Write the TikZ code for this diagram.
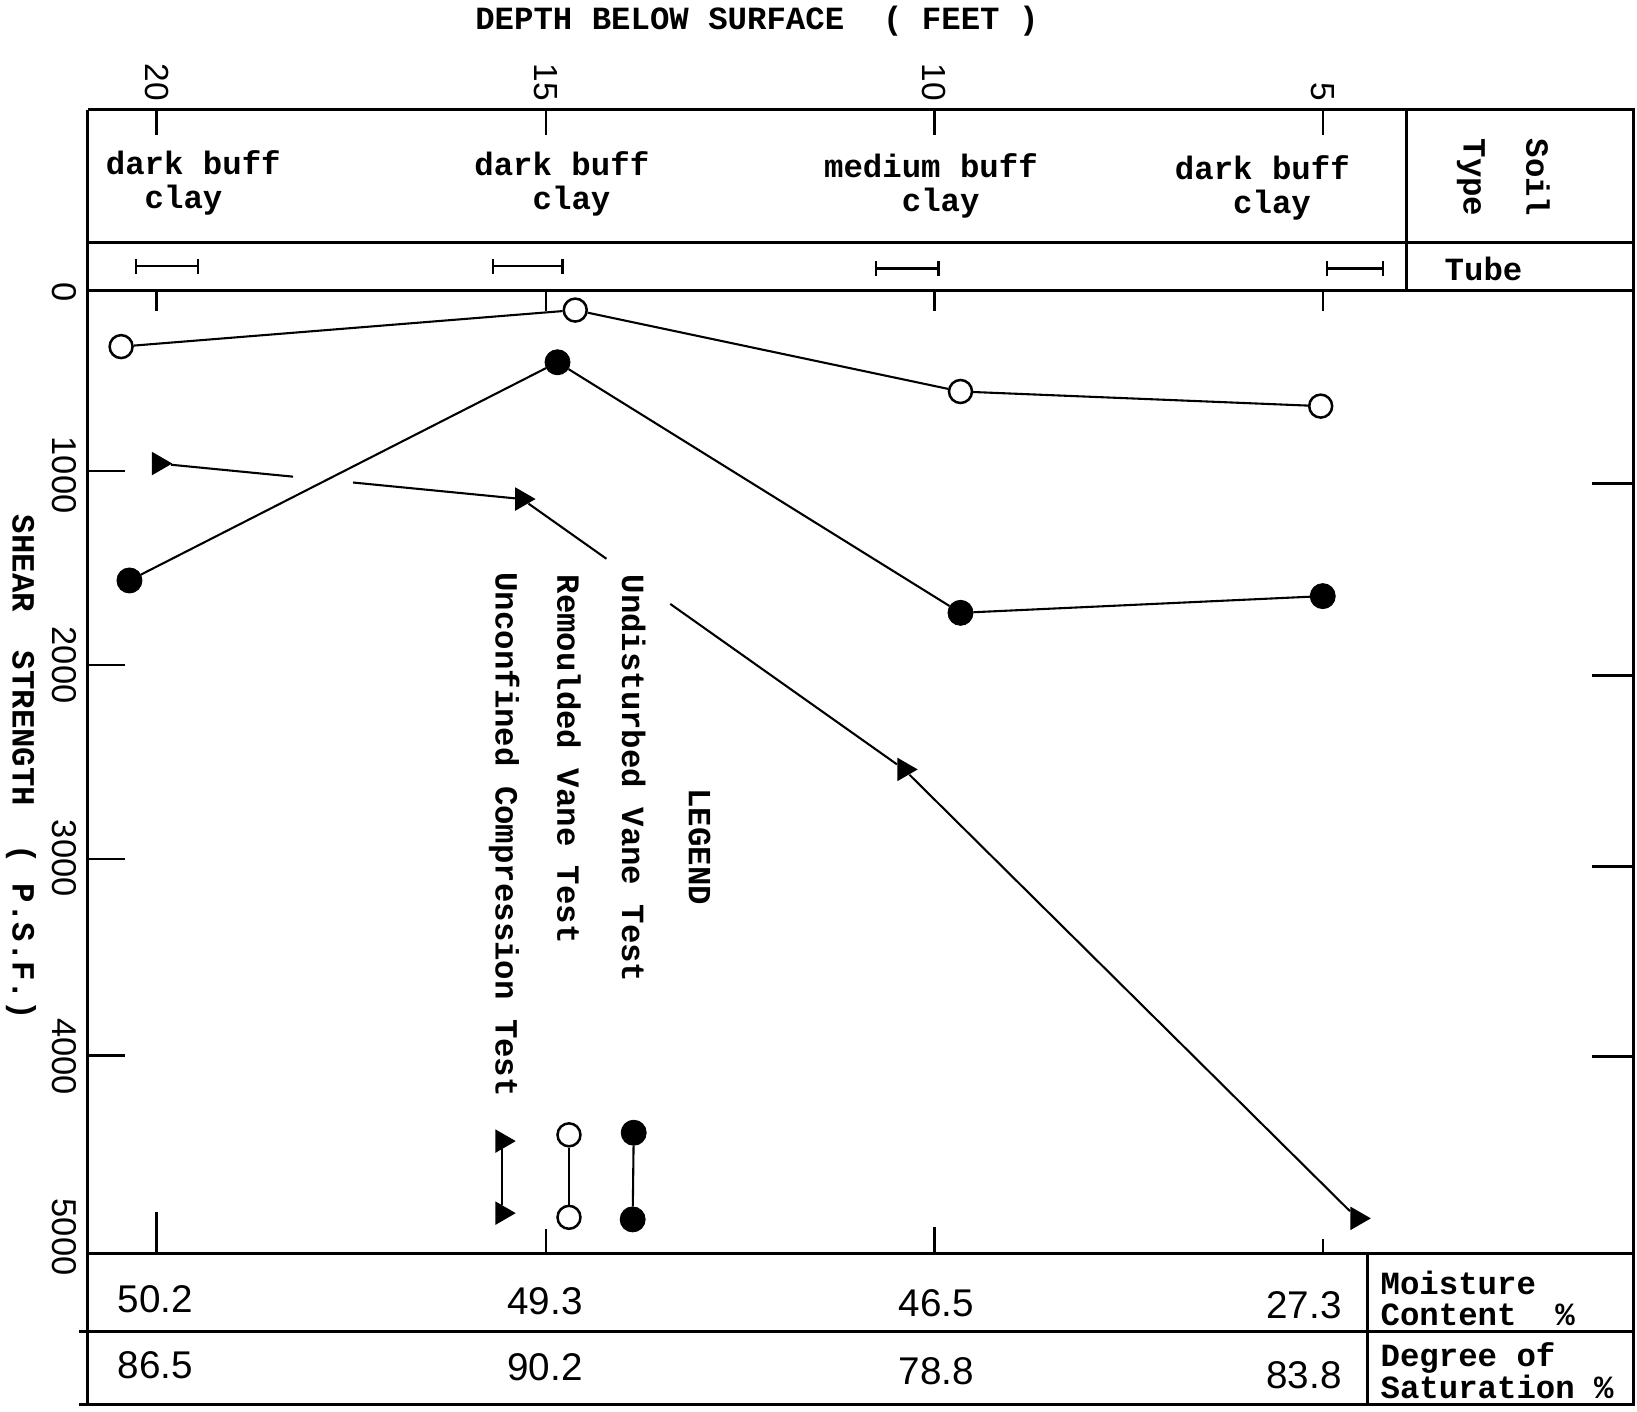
\documentclass[tikz,border=0pt]{standalone}
\usepackage{fontspec}
\setmonofont{Liberation Mono}
\newfontfamily\leroyfont{Liberation Sans}
\usepackage{tikz}
\usetikzlibrary{arrows.meta, calc, shapes.geometric}

\begin{document}
\begin{tikzpicture}[x=0.5pt, y=-0.5pt]
            \tikzstyle{typed} = [font=\ttfamily\bfseries\fontsize{15.5}{16}\selectfont, inner sep=0pt]
            \tikzstyle{lettered} = [font=\leroyfont\fontsize{18.5}{20}\selectfont, inner sep=0pt]
            \tikzstyle{depth label} = [font=\leroyfont\fontsize{16}{18}\selectfont, rotate=-90, anchor=east, inner sep=0pt]
            \tikzstyle{strength label} = [font=\leroyfont\fontsize{16.5}{18}\selectfont, rotate=-90, inner sep=0pt]
            \tikzstyle{rule line} = [draw, line width=1.5pt]
            \tikzstyle{tick} = [draw, line width=1.2pt]
            \tikzstyle{trace} = [draw, line width=1pt]
            \tikzstyle{open dot} = [circle, draw, line width=1.2pt, fill=white, inner sep=0pt, minimum size=11pt]
            \tikzstyle{full dot} = [circle, draw, fill=black, inner sep=0pt, minimum size=12pt]
            \tikzstyle{wedge} = [regular polygon, regular polygon sides=3, shape border rotate=-90, fill=black, inner sep=0pt, minimum size=13pt]

            \useasboundingbox (0,0) rectangle (1568,1352);

            \path [rule line] (84,105) -- (1565,105) -- (1565,1345) -- (76,1345);
            \path [rule line] (84,105) -- (84,1345);
            \path [rule line] (84,232) -- (1565,232);
            \path [rule line] (84,278) -- (1565,278);
            \path [rule line] (84,1201) -- (1565,1201);
            \path [rule line] (76,1275) -- (1565,1275);
            \path [rule line] (1347,105) -- (1347,278);
            \path [rule line] (1310,1201) -- (1310,1345);

            \node [typed] (depth) at (725,20) {DEPTH BELOW SURFACE\ \ ( FEET )};
            \node [typed, rotate=-90] (shear) at (20,735) {SHEAR\ \ STRENGTH\ \ ( P.S.F.)};

            \foreach \d/\x/\b in {20/150/1161, 15/523/1177, 10/895/1175, 5/1267/1187} {
                \node [depth label] (d\d) at (\x,97) {\d};
                \path [tick] (\x,105) -- (\x,129);
                \path [tick] (\x,278) -- (\x,298);
                \path [tick] (\x,1201) -- (\x,\b);
            }
            \foreach \s/\y in {0/280, 1000/455, 2000/637, 3000/822, 4000/1012, 5000/1185}
                \node [strength label] (s\s) at (62,\y) {\s};
            \foreach \y in {451, 637, 823, 1011}
                \path [tick] (84,\y) -- (120,\y);
            \foreach \y in {463, 647, 830, 1012}
                \path [tick] (1525,\y) -- (1565,\y);

            \node [typed, align=left, anchor=west] (soil1) at (101,175) {dark buff\\\hphantom{xx}clay};
            \node [typed, align=left, anchor=west] (soil2) at (454,176) {dark buff\\\hphantom{xxx}clay};
            \node [typed, align=left, anchor=west] (soil3) at (789,178) {medium buff\\\hphantom{xxxx}clay};
            \node [typed, align=left, anchor=west] (soil4) at (1125,180) {dark buff\\\hphantom{xxx}clay};
            \node [typed, align=left, rotate=-90, font=\ttfamily\bfseries\fontsize{15.5}{30}\selectfont] (soiltype) at (1440,170) {Soil\\Type};
            \node [typed] (tube) at (1421,258) {Tube};

            \foreach \a/\b/\y in {129/191/255, 471/540/255, 838/900/257, 1270/1326/257}
                \path [tick, {Bar[width=7pt]}-{Bar[width=7pt]}] (\a,\y) -- (\b,\y);

            \node [open dot] (r1) at (116,332) {};
            \node [open dot] (r2) at (551,297) {};
            \node [open dot] (r3) at (920,375) {};
            \node [open dot] (r4) at (1265,389) {};
            \node [full dot] (f1) at (124,556) {};
            \node [full dot] (f2) at (534,347) {};
            \node [full dot] (f3) at (920,587) {};
            \node [full dot] (f4) at (1267,571) {};
            \node [wedge] (u1) at (152,444) {};
            \node [wedge] (u2) at (500,478) {};
            \node [wedge] (u3) at (866,737) {};
            \node [wedge] (u4) at (1300,1167) {};
            \coordinate (g1) at ($(u1)!0.37!(u2)$);
            \coordinate (g2) at ($(u1)!0.535!(u2)$);
            \coordinate (g3) at ($(u2)!0.221!(u3)$);
            \coordinate (g4) at ($(u2)!0.388!(u3)$);

            \path [trace] (r1) -- (r2) -- (r3) -- (r4);
            \path [trace] (f1) -- (f2) -- (f3) -- (f4);
            \path [trace] (u1) -- (g1);
            \path [trace] (g2) -- (u2) -- (g3);
            \path [trace] (g4) -- (u3) -- (u4);

            \node [typed, rotate=-90] (legend) at (670,811) {LEGEND};
            \node [typed, rotate=-90, anchor=west] (uvt) at (607,550) {Undisturbed Vane Test};
            \node [typed, rotate=-90, anchor=west] (rvt) at (545,550) {Remoulded Vane Test};
            \node [typed, rotate=-90, anchor=west] (uct) at (483,548) {Unconfined Compression Test};
            \node [full dot] (lf1) at (607,1085) {};
            \node [full dot] (lf2) at (606,1168) {};
            \node [open dot] (lo1) at (545,1087) {};
            \node [open dot] (lo2) at (545,1166) {};
            \node [wedge] (lu1) at (481,1093) {};
            \node [wedge] (lu2) at (481,1162) {};
            \path [trace] (lf1) -- (lf2);
            \path [trace] (lo1) -- (lo2);
            \path [trace] (lu1) -- (lu2);

            \foreach \x/\m/\ym/\s/\ys [count=\i] in {149/50.2/1244/86.5/1308, 522/49.3/1246/90.2/1310, 897/46.5/1248/78.8/1313, 1249/27.3/1250/83.8/1317} {
                \node [lettered] (mc\i) at (\x,\ym) {\m};
                \node [lettered] (ds\i) at (\x,\ys) {\s};
            }
            \node [typed, align=left, anchor=west, font=\ttfamily\bfseries\fontsize{15.5}{15}\selectfont] (moist) at (1322,1244) {Moisture\\Content\ \ \%};
            \node [typed, align=left, anchor=west, font=\ttfamily\bfseries\fontsize{15.5}{15}\selectfont] (satur) at (1322,1313) {Degree of\\Saturation \%};
        \end{tikzpicture}
\end{document}
